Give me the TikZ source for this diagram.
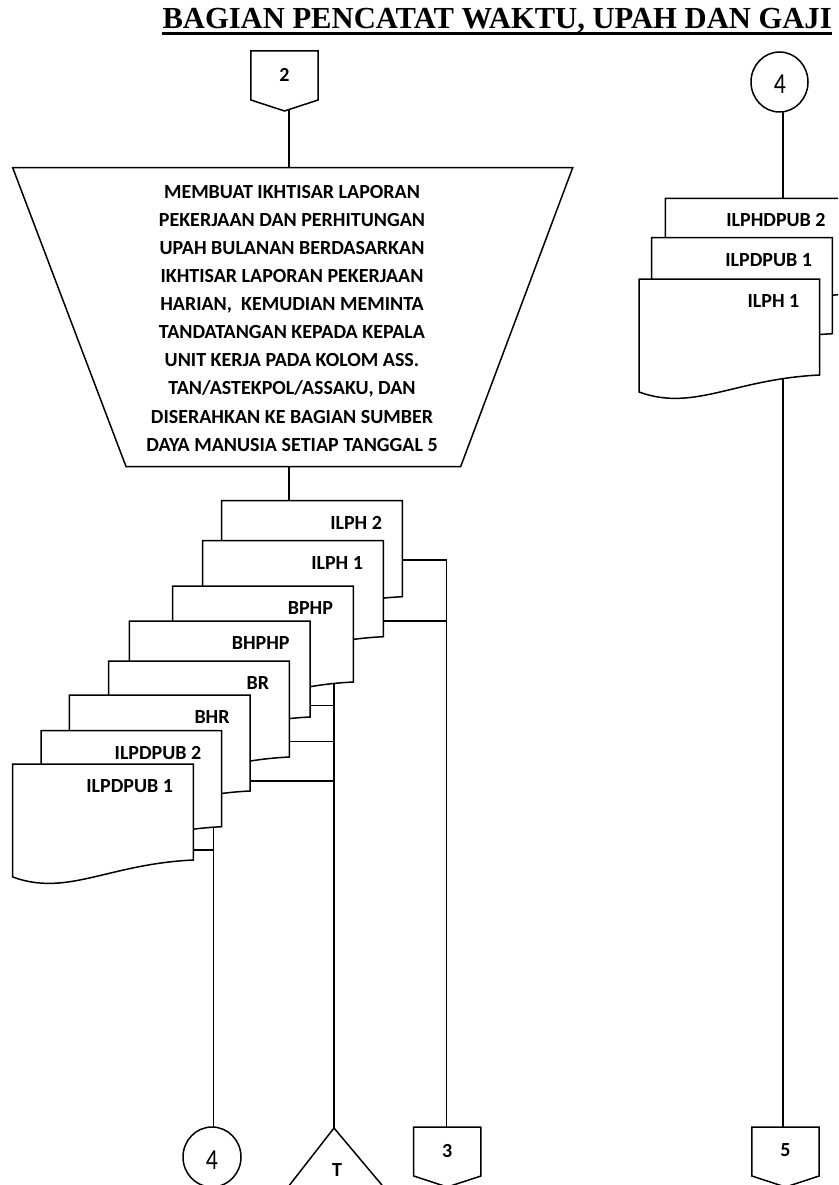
\documentclass[tikz,border=0pt]{standalone}
\usepackage{fontspec}
\setmainfont{Carlito}
\newfontfamily\titlefont{Liberation Serif}
\usetikzlibrary{calc,shapes.geometric}
\tikzset{
  ln/.style={line width=1.5pt},
  shp/.style={line width=1.5pt, fill=white, line join=miter},
  lbl/.style={font=\fontsize{20}{24}\selectfont\bfseries, inner sep=0pt},
  circ/.style={draw, ellipse, line width=1.5pt, fill=white, minimum width=57pt, minimum height=60pt, inner sep=0pt},
  digit/.style={font=\fontsize{29}{30}\selectfont, inner sep=0pt, xscale=0.82},
}
\newcommand\docshape[4]{%
  \draw[shp] (#2,#3) -- (#2+180.7,#3) -- (#2+180.7,#3+96)
    .. controls (#2+95,#3+100) and (#2+55,#3+133) .. (#2,#3+113) -- cycle;
  \node[lbl, anchor=base east] (#1) at (#2+160.5,#3+28.5) {#4};
}
\newcommand\offpage[4]{%
  \draw[shp] (#2-33.6,#3) -- (#2+33.6,#3) -- (#2+33.6,#3+49) -- (#2,#3+60) -- (#2-33.6,#3+49) -- cycle;
  \node[lbl] (#1) at (#2,#3+23.5) {#4};
}
\begin{document}
\begin{tikzpicture}[x=1pt,y=-1pt]
\useasboundingbox (0,0) rectangle (838,1185);
\clip (0,0) rectangle (838,1185);

% title
\node[anchor=base west, inner sep=0pt, font=\titlefont\fontsize{30.6}{31}\selectfont\bfseries] (title) at (162.3,28.3) {BAGIAN PENCATAT WAKTU, UPAH DAN GAJI};
\draw[line width=3pt] ($(title.base west)+(0,5)$) -- ($(title.base east)+(0,5)$);

% named junction coordinates
\coordinate (trapTop) at (289,167.7);
\coordinate (trapBot) at (289,466.5);
\coordinate (in3) at (446.7,1127);
\coordinate (in5) at (783,1127);
\coordinate (inT) at (334,1128);
\coordinate (in4) at (213.3,1127);
\coordinate (j3a) at (446.7,560);
\coordinate (j3b) at (446.7,621);
\coordinate (jTa) at (334,705.7);
\coordinate (jTb) at (334,741.7);
\coordinate (jTc) at (334,781);
\coordinate (j4a) at (213.3,850);

% connectors (drawn first; shapes cover their ends)
\draw[ln] (289,100) -- (trapTop);
\draw[ln] (trapBot) -- (289,500.7);
\draw[ln] (783,82) -- (783,198.3);
\draw[ln] (783,300) -- (in5);
\draw[ln] (402,560) -- (j3a) -- (in3);
\draw[ln] (383.3,621) -- (j3b);
\draw[ln] (334,650) -- (inT);
\draw[ln] (310,705.7) -- (jTa);
\draw[ln] (289.7,741.7) -- (jTb);
\draw[ln] (249.7,781) -- (jTc);
\draw[ln] (213.3,800) -- (in4);
\draw[ln] (193.3,850) -- (j4a);

% connector 2
\offpage{off2}{284.5}{51}{2}

% process trapezoid
\draw[shp] (12.7,167.7) -- (572.7,167.7) -- (460.7,466.5) -- (126,466.5) -- cycle;
\node[align=center, font=\fontsize{20}{28.1}\selectfont\bfseries, inner sep=0pt] (proc) at (292,318.2) {MEMBUAT IKHTISAR LAPORAN\\
PEKERJAAN DAN PERHITUNGAN\\
UPAH BULANAN BERDASARKAN\\
IKHTISAR LAPORAN PEKERJAAN\\
HARIAN, \ KEMUDIAN MEMINTA\\
TANDATANGAN KEPADA KEPALA\\
UNIT KERJA PADA KOLOM ASS.\\
TAN/ASTEKPOL/ASSAKU, DAN\\
DISERAHKAN KE BAGIAN SUMBER\\
DAYA MANUSIA SETIAP TANGGAL 5};

% left document stack (back to front)
\docshape{ilph2}{221.7}{500.7}{ILPH 2}
\docshape{ilph1}{202.7}{540.7}{ILPH 1}
\docshape{bphp}{172.7}{586}{BPHP}
\docshape{bhphp}{129.3}{621}{BHPHP}
\docshape{br}{108.7}{661}{BR}
\docshape{bhr}{69.3}{695}{BHR}
\docshape{ilpdpubB}{41}{730.7}{ILPDPUB 2}
\docshape{ilpdpubA}{12.7}{764}{ILPDPUB 1}

% right column
\node[circ] (c4top) at (779.5,82) {};
\node[digit] (c4topl) at (780,84) {4};
\docshape{rilphdpub2}{665.3}{198.3}{ILPHDPUB 2}
\docshape{rilpdpub1}{651.7}{237.7}{ILPDPUB 1}
\docshape{rilph1}{639}{279}{ILPH 1}

% bottom terminators
\node[circ, minimum width=58pt] (c4bot) at (212,1157) {};
\node[digit] (c4botl) at (212,1160) {4};
\draw[shp] (inT) -- (274,1205) -- (398.7,1205) -- cycle;
\node[lbl] (tlbl) at (337,1170) {T};
\offpage{off3}{447.3}{1127}{3}
\offpage{off5}{785.5}{1127}{5}
\end{tikzpicture}
\end{document}
